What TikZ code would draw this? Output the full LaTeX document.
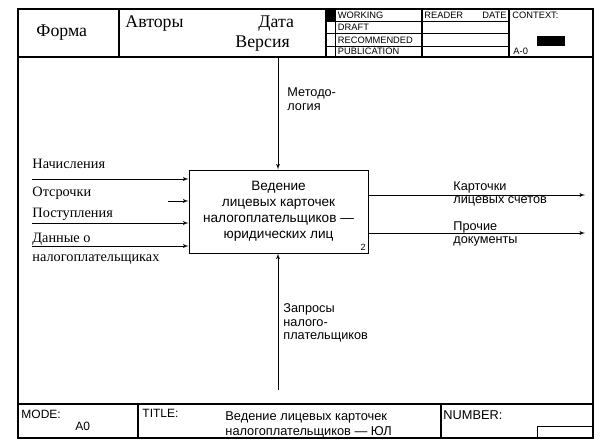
\documentclass[tikz,border=0pt]{standalone}
\usepackage{fontspec}
\setmainfont{Liberation Serif}
\setsansfont{Liberation Sans}
\usetikzlibrary{arrows,calc,positioning}

\begin{document}
\begin{tikzpicture}[x=1pt,y=-1pt]
    \tikzstyle{every path}=[line width=0.9pt]
    \tikzstyle{frame}=[draw,line width=1.1pt]
    \tikzstyle{thinline}=[draw,line width=0.6pt]
    \tikzstyle{l} = [draw, -latex', line width=0.9pt]
    \tikzstyle{big}=[inner sep=0pt,anchor=base west,font=\fontsize{17.8}{20}\selectfont]
    \tikzstyle{serif}=[inner sep=0pt,anchor=base west,font=\fontsize{14.3}{16}\selectfont]
    \tikzstyle{lbl}=[inner sep=0pt,anchor=west,align=left,font=\sffamily\fontsize{12.7}{13.5}\selectfont]
    \tikzstyle{small}=[inner sep=0pt,anchor=base west,font=\sffamily\fontsize{9.3}{10}\selectfont]
    \tikzstyle{foot}=[inner sep=0pt,anchor=base west,font=\sffamily\fontsize{12}{14}\selectfont]
    \tikzstyle{func}=[draw,line width=1pt,minimum width=179pt,minimum height=83pt,align=center,font=\sffamily\fontsize{13.6}{16}\selectfont]

    \useasboundingbox (0,0) rectangle (610,444);

    %% Frame of the form
    \draw[frame] (18,9) rectangle (593,438);
    \draw[frame] (18,57) -- (593,57);
    \draw[frame] (18,404) -- (593,404);

    %% Header
    \draw[frame] (119,9) -- (119,57);
    \draw[frame] (326,9) -- (326,57);
    \draw[thinline] (335,9) -- (335,57);
    \draw[frame] (422,9) -- (422,57);
    \draw[frame] (509,9) -- (509,57);
    \draw[thinline] (326,21) -- (509,21);
    \draw[thinline] (326,33) -- (509,33);
    \draw[thinline] (326,46) -- (509,46);
    \fill (326,9) rectangle (335,21);
    \fill (537,36) rectangle (565,46);

    \node[big] (forma) at (36,37) {Форма};
    \node[big] (avtory) at (125,27.5) {Авторы};
    \node[big] (data) at (258,27.5) {Дата};
    \node[big] (versiya) at (235,48) {Версия};
    \node[small] (working) at (337.5,19) {WORKING};
    \node[small] (draft) at (337.5,31) {DRAFT};
    \node[small] (recom) at (337.5,43.5) {RECOMMENDED};
    \node[small] (publ) at (337.5,55) {PUBLICATION};
    \node[small] (reader) at (424,19) {READER};
    \node[small,anchor=base east] (date) at (507,19) {DATE};
    \node[small] (context) at (512,19) {CONTEXT:};
    \node[small] (azero) at (513,55) {A-0};

    %% Footer
    \draw[frame] (138,404) -- (138,438);
    \draw[frame] (441,404) -- (441,438);
    \draw[thinline] (537,438) -- (537,426) -- (593,426);
    \node[foot] (mode) at (21,418) {MODE:};
    \node[foot] (azero2) at (75,430) {A0};
    \node[foot] (title) at (142,417) {TITLE:};
    \node[foot,font=\sffamily\fontsize{12.8}{14}\selectfont] (tline1) at (225,420) {Ведение лицевых карточек};
    \node[foot,font=\sffamily\fontsize{12.8}{14}\selectfont] (tline2) at (225,435) {налогоплательщиков — ЮЛ};
    \node[foot,font=\sffamily\fontsize{12.8}{14}\selectfont] (number) at (443,419) {NUMBER:};

    %% Function box
    \node[func] (box) at (278.5,211.5) {Ведение\\лицевых карточек\\налогоплательщиков —\\юридических лиц};
    \node[anchor=south east,inner sep=2.5pt,font=\sffamily\fontsize{9}{10}\selectfont] (num) at (box.south east) {2};

    %% Arrow ends
    \coordinate (ctl) at (278,57);
    \coordinate (mech) at (278,390);
    \coordinate (in1) at (32,179);
    \coordinate (in2) at (168,201);
    \coordinate (in3) at (32,223);
    \coordinate (in4) at (32,246);
    \coordinate (out1) at (585,195);
    \coordinate (out2) at (585,233);

    \draw[l] (ctl) -- (ctl |- box.north);
    \draw[l] (mech) -- (mech |- box.south);
    \draw[l] (in1) -- (in1 -| box.west);
    \draw[l] (in2) -- (in2 -| box.west);
    \draw[l] (in3) -- (in3 -| box.west);
    \draw[l] (in4) -- (in4 -| box.west);
    \draw[l] (out1 -| box.east) -- (out1);
    \draw[l] (out2 -| box.east) -- (out2);

    %% Labels
    \node[lbl] (metod) at (287,99) {Методо-\\логия};
    \node[lbl] (zapros) at (283,323) {Запросы\\налого-\\плательщиков};
    \node[lbl] (kart) at (453,194) {Карточки\\лицевых счетов};
    \node[lbl] (proch) at (453,234) {Прочие\\документы};
    \node[serif] (nach) at (32,168) {Начисления};
    \node[serif] (otsr) at (32,196) {Отсрочки};
    \node[serif] (post) at (32,217) {Поступления};
    \node[serif] (dann) at (32,242) {Данные о};
    \node[serif] (dann2) at (32,261) {налогоплательщиках};
\end{tikzpicture}
\end{document}
